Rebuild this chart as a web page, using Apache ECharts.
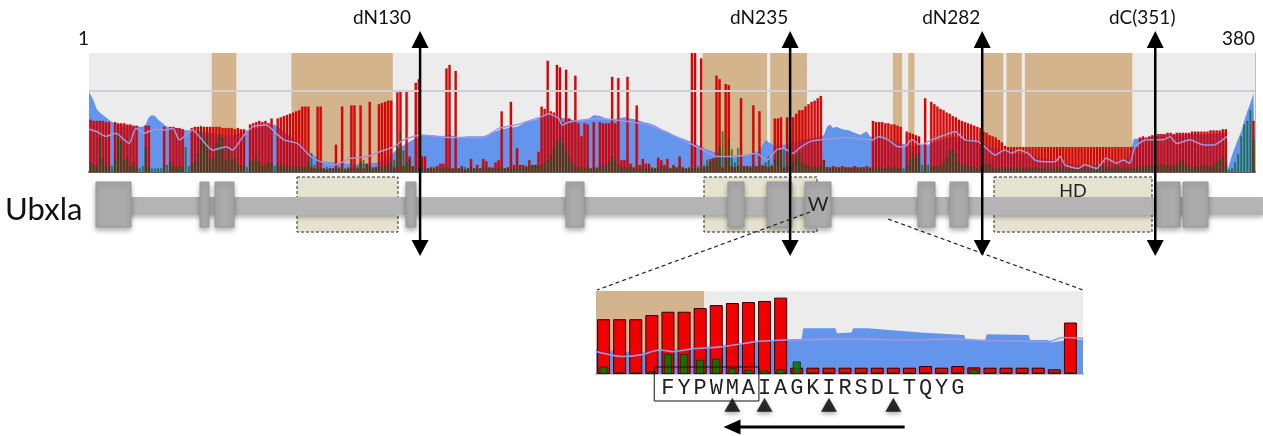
<!DOCTYPE html>
<html><head><meta charset="utf-8">
<script src="https://cdn.jsdelivr.net/npm/echarts@6/dist/echarts.min.js"></script>
<style>html,body{margin:0;padding:0;background:#fff}#c{width:1263px;height:436px}</style>
</head><body><div id="c"></div>
<script>
// ---- main conservation profile, residues 1..380 ----
const redVals = [
0.44,0.43,0.43,0.43,0.43,0.42,0.42,0,0.42,0.41,
0.41,0.41,0.40,0.40,0.39,0.39,0,0,0.39,0.39,
0,0,0,0,0.38,0,0.38,0.38,0.37,0.37,
0.36,0,0,0.37,0.38,0.38,0.38,0.38,0.38,0.38,
0.38,0.38,0.38,0.37,0.37,0.37,0.37,0.36,0.37,0.36,
0.36,0,0.40,0.41,0.42,0.43,0.42,0.43,0.41,0.45,
0,0.45,0.46,0.47,0.48,0.49,0.50,0.51,0.52,0.55,
0.55,0.55,0.04,0.03,0.55,0.55,0.03,0.02,0.03,0.03,
0.23,0.03,0.55,0.02,0.03,0.56,0.56,0.03,0.56,0.03,
0.07,0.59,0.03,0.04,0.57,0.58,0.59,0.60,0.60,0.04,
0.67,0.68,0.05,0.69,0.13,0.05,0.75,0.78,0.13,0.13,
0.03,0.04,0.03,0.05,0.07,0.07,0.87,0.90,0.03,0.85,
0.03,0.05,0.02,0.03,0.11,0.03,0.06,0.03,0.11,0.09,
0.04,0.03,0.08,0.10,0.51,0.03,0.04,0.59,0.06,0.20,
0.06,0.06,0.05,0.10,0.06,0.06,0.17,0.55,0.53,0.935,
0.51,0.50,0.90,0.88,0.42,0.86,0.45,0.43,0.81,0.41,
0.30,0.41,0.40,0.03,0.42,0.03,0.42,0.41,0.41,0.41,
0.80,0.41,0.79,0.10,0.10,0.80,0.07,0.04,0.56,0.06,
0.11,0.07,0.07,0.03,0.03,0.12,0.10,0.06,0.11,0.03,
0.06,0.04,0.13,0.04,0.03,0.03,1.0,1.0,0.03,0.955,
0.04,0.05,0.11,0.11,0.81,0.78,0.04,0.74,0.73,0.05,
0.04,0.05,0.62,0.05,0.05,0.04,0.56,0.05,0.51,0.05,
0.05,0.04,0.05,0.45,0.45,0.46,0.04,0.46,0.46,0.46,
0.49,0.52,0.52,0.55,0.57,0.59,0.60,0.62,0.64,0.10,
0.04,0.04,0.05,0.04,0.04,0.05,0.04,0.04,0.04,0.05,
0.04,0.04,0.04,0.05,0.04,0.43,0.42,0.42,0.42,0.41,
0.41,0.40,0.40,0.39,0.38,0,0.34,0.33,0.32,0.31,
0.30,0,0.62,0,0.59,0.57,0.55,0.53,0.52,0.50,
0.49,0.47,0.46,0.44,0.43,0.42,0.41,0.40,0.39,0.38,
0.37,0.34,0.33,0.31,0.30,0.29,0.27,0.25,0.22,0.21,
0.21,0.21,0.21,0.21,0.21,0.21,0.21,0.21,0.21,0.21,
0.21,0.21,0.21,0.21,0.21,0.21,0.21,0.21,0.21,0.21,
0.21,0.21,0.21,0.21,0.21,0.21,0.21,0.21,0.21,0.21,
0.21,0.21,0.21,0.21,0.21,0.21,0.21,0.21,0.21,0.21,
0.21,0.21,0.29,0.30,0.29,0.30,0.31,0.31,0.32,0.32,
0.32,0.33,0.33,0.32,0.33,0.33,0.33,0.33,0.33,0.34,
0.34,0.34,0.34,0.34,0.34,0.35,0.35,0.35,0.35,0.36,
0.36,0,0,0,0,0,0,0,0,0.43
];
const greenVals = [
0.08,0.06,0.05,0.28,0.12,0.05,0.04,0.05,0.10,0.33,
0.25,0.10,0.12,0.05,0.08,0.04,0.03,0.05,0.21,0.04,
0.03,0.03,0.03,0.03,0.05,0.06,0.08,0.05,0.04,0.05,
0.04,0.21,0.05,0.06,0.08,0.15,0.39,0.28,0.30,0.10,
0.12,0.25,0.32,0.28,0.10,0.21,0.10,0.12,0.06,0.05,
0.05,0.04,0.08,0.10,0.12,0.08,0.05,0.06,0.08,0.07,
0.05,0.06,0.07,0.05,0.04,0.04,0.05,0.04,0.04,0.05,
0.04,0.08,0.16,0.06,0.04,0.03,0.03,0.04,0.03,0.03,
0.03,0.04,0.03,0.03,0.04,0.03,0.04,0.05,0.08,0.10,
0.06,0.05,0.04,0.04,0.05,0.04,0.05,0.06,0.08,0.10,
0.21,0.34,0.18,0.08,0.10,0.04,0.03,0.03,0.04,0.03,
0.03,0.03,0.04,0.03,0.03,0.03,0.04,0.03,0.03,0.03,
0.03,0.03,0.04,0.03,0.04,0.03,0.03,0.03,0.04,0.03,
0.03,0.04,0.03,0.03,0.04,0.03,0.03,0.04,0.03,0.04,
0.04,0.03,0.04,0.05,0.05,0.06,0.05,0.06,0.08,0.10,
0.14,0.20,0.26,0.28,0.24,0.18,0.12,0.08,0.05,0.04,
0.04,0.03,0.04,0.03,0.04,0.04,0.05,0.04,0.06,0.08,
0.13,0.10,0.06,0.04,0.04,0.03,0.04,0.03,0.04,0.03,
0.04,0.03,0.03,0.04,0.03,0.04,0.05,0.03,0.04,0.03,
0.04,0.03,0.05,0.03,0.03,0.04,0.03,0.03,0.05,0.04,
0.06,0.10,0.08,0.12,0.13,0.21,0.34,0.15,0.28,0.19,
0.08,0.20,0.06,0.05,0.04,0.05,0.06,0.04,0.05,0.06,
0.08,0.13,0.06,0.10,0.19,0.18,0.19,0.06,0.05,0.08,
0.13,0.16,0.08,0.06,0.05,0.04,0.05,0.04,0.06,0.10,
0.04,0.03,0.03,0.04,0.03,0.03,0.04,0.03,0.03,0.04,
0.03,0.03,0.04,0.03,0.03,0.03,0.03,0.04,0.03,0.03,
0.04,0.03,0.04,0.03,0.04,0.03,0.05,0.10,0.16,0.12,
0.16,0.06,0.05,0.06,0.04,0.05,0.04,0.06,0.08,0.12,
0.18,0.19,0.15,0.08,0.05,0.07,0.06,0.04,0.04,0.03,
0.04,0.07,0.06,0.07,0.04,0.03,0.03,0.04,0.03,0.03,
0.03,0.04,0.03,0.03,0.03,0.04,0.03,0.03,0.04,0.03,
0.03,0.03,0.04,0.03,0.03,0.04,0.03,0.03,0.03,0.04,
0.03,0.04,0.03,0.03,0.04,0.03,0.04,0.05,0.06,0.04,
0.05,0.04,0.04,0.03,0.05,0.04,0.03,0.04,0.04,0.03,
0.03,0.04,0.05,0.04,0.05,0.06,0.05,0.04,0.05,0.07,
0.05,0.06,0.05,0.06,0.07,0.08,0.10,0.06,0.05,0.04,
0.05,0.04,0.05,0.06,0.05,0.04,0.06,0.08,0.10,0.13,
0.06,0.02,0.03,0.08,0.15,0.30,0.40,0.43,0.52,0.27
];
const bluePts = [
[0.5,0.675],[1,0.66],[2,0.60],[3,0.53],[4,0.50],[5,0.48],[6,0.46],[7,0.44],[8,0.42],[10,0.40],[13,0.39],[16,0.38],[18,0.38],
[19,0.40],[20,0.46],[21,0.48],[22,0.47],[23,0.44],[24,0.42],[25,0.40],[26,0.38],[29,0.37],[31,0.36],[32,0.35],[33,0.35],
[36,0.34],[40,0.33],[44,0.31],[48,0.31],[50,0.33],[52,0.35],[55,0.37],[58,0.39],[61,0.40],[63,0.36],[66,0.30],[69,0.24],
[72,0.17],[75,0.12],[77,0.09],[80,0.08],[85,0.07],[90,0.07],[95,0.08],[98,0.12],[100,0.17],[102,0.21],[104,0.24],[106,0.27],
[108,0.29],[109,0.31],[112,0.31],[115,0.30],[118,0.31],[121,0.29],[124,0.30],[127,0.30],[129,0.30],[131,0.32],[134,0.35],
[137,0.37],[140,0.38],[143,0.42],[146,0.44],[148,0.46],[150,0.49],[152,0.48],[154,0.46],[156,0.45],[158,0.44],[161,0.43],
[163,0.44],[165,0.48],[167,0.47],[169,0.45],[171,0.44],[173,0.45],[175,0.46],[177,0.45],[179,0.44],[181,0.42],[183,0.41],
[185,0.39],[187,0.36],[189,0.34],[191,0.31],[193,0.29],[195,0.27],[198,0.24],[201,0.20],[204,0.17],[207,0.14],[210,0.12],
[213,0.13],[216,0.15],[219,0.18],[221,0.27],[222,0.25],[224,0.22],[227,0.23],[230,0.25],[233,0.27],[236,0.28],[239,0.30],
[240,0.31],[241,0.38],[242,0.40],[243,0.37],[244,0.38],[246,0.36],[248,0.35],[250,0.33],[252,0.31],[253,0.33],[254,0.34],
[255,0.30],[256,0.29],[258,0.29],[262,0.27],[265,0.24],[267,0.23],[270,0.22],[272,0.23],[274,0.23],[276,0.25],[279,0.28],
[282,0.30],[286,0.28],[290,0.26],[294,0.21],[298,0.18],[302,0.16],[306,0.15],[310,0.12],[314,0.10],[318,0.08],[322,0.06],
[326,0.05],[330,0.06],[334,0.09],[338,0.10],[340,0.16],[341,0.28],[343,0.28],[346,0.29],[350,0.31],[355,0.31],[360,0.32],
[365,0.32],[371,0.33],[371.6,0.02],[373,0.14],[374,0.21],[375,0.28],[376,0.34],[377,0.43],[378,0.51],[379,0.58],[380,0.66],[380.5,0.675]
];
const purplePts = [
[0.5,0.36],[3,0.34],[6,0.30],[9.3,0.325],[12,0.27],[13.6,0.24],[15.8,0.367],[18.5,0.325],[22,0.36],[25.6,0.353],[27.8,0.367],
[30,0.27],[34.3,0.353],[36.5,0.297],[40.8,0.185],[45.2,0.213],[47.3,0.185],[50.6,0.297],[53.9,0.381],[58.2,0.395],[61.5,0.325],
[64,0.27],[68.4,0.24],[72.8,0.13],[76,0.087],[80.4,0.06],[85.8,0.115],[91.2,0.13],[96.7,0.185],[100,0.213],[103,0.27],[108.6,0.31],
[118.4,0.29],[129,0.29],[134,0.367],[139.5,0.395],[148,0.465],[150.3,0.49],[153.6,0.45],[154.7,0.395],[156.9,0.42],[161.2,0.437],
[166,0.45],[172,0.437],[177.5,0.42],[183,0.395],[189.5,0.325],[193.8,0.27],[197.4,0.227],[200.7,0.185],[205,0.13],[209.4,0.13],
[214.8,0.143],[218,0.157],[221.4,0.10],[224.6,0.185],[226.8,0.2],[230,0.157],[232,0.2],[235.5,0.255],[238.8,0.27],[242,0.28],
[247.5,0.29],[252,0.28],[256,0.27],[257.7,0.297],[261,0.27],[264.2,0.213],[266.4,0.213],[268.6,0.27],[271.8,0.227],[275.1,0.27],
[279.4,0.31],[282.7,0.34],[286,0.27],[290.3,0.255],[293.6,0.185],[295.7,0.143],[299,0.185],[301.2,0.157],[303.4,0.185],[306.6,0.157],
[308.8,0.10],[312,0.087],[315.3,0.087],[317,0.13],[318.6,0.06],[323,0.03],[325,0.06],[328.9,0.03],[332,0.115],[335.4,0.073],
[337.6,0.10],[339.7,0.073],[341.4,0.213],[345.2,0.27],[350.6,0.27],[352.8,0.297],[355,0.24],[359.3,0.27],[363.7,0.227],[367,0.227],[371.3,0.297]
];
const tanRanges = [[41,48],[67,99],[201,221],[223,234],[263,265],[268,269],[292,298],[300,304],[306,340]];
const refLevel = 0.68;
const topTicks = [48,98,146,195,283,336];
const endLabels = ['1','380'];
const cutLabels = ['dN130','dN235','dN282','dC(351)'];
const cutPos = [108.4,229,291.6,348];
const cutLabelDx = [-38,-31,-31,-13];

// ---- inset (zoomed W region) ----
const insetRed = [0.66,0.66,0.66,0.71,0.75,0.75,0.795,0.83,0.855,0.867,0.88,0.92,
  0.076,0.076,0.076,0.076,0.076,0.076,0.076,0.076,0.096,0.076,0.096,0.08,0.076,0.076,0.076,0.076,0.056,0.62];
const insetGreen = [0.088,0.02,0.02,0.03,0.24,0.24,0.17,0.185,0.068,0.048,0.04,0.056,
  0.15,0.02,0.02,0.02,0.02,0.02,0.02,0.02,0.02,0.02,0.02,0.056,0.02,0.02,0.02,0.02,0.02,0.02];
const insetBlue = [[-0.5,0.30],[1,0.27],[3,0.26],[5,0.30],[7,0.34],[9,0.38],[11,0.40],[11.4,0.42],[12.3,0.42],[12.4,0.55],
  [14.4,0.55],[14.5,0.49],[15.4,0.50],[15.5,0.55],[16.4,0.55],[16.5,0.53],[19.7,0.50],[19.8,0.49],[22.4,0.47],[22.5,0.41],
  [23.7,0.41],[23.8,0.48],[26.4,0.47],[26.5,0.41],[27.6,0.41],[27.8,0.38],[28.5,0.40],[30,0.42]];
const insetPurple = [[-0.47,0.27],[0.4,0.23],[1.2,0.21],[2.3,0.23],[3.5,0.29],[4.3,0.27],[5.4,0.30],[7.4,0.33],[9.5,0.39],
  [11.4,0.41],[15.7,0.42],[19,0.41],[21.9,0.42],[24,0.40],[27.7,0.39],[28.5,0.44],[29.8,0.43]];
const insetLetters = ['','','','','F','Y','P','W','M','A','I','A','G','K','I','R','S','D','L','T','Q','Y','G','','','','','','',''];
const insetMarks = [8,10,14,18];
const insetTan = [-0.47,6.24];
const motifBox = [3.15,9.65];
const arrowSpan = [18.7,7.45];

// ---- gene schematic (schematic units) ----
const domains = [[297,398],[704,817],[994,1152]];
const domainLabels = ['','','HD'];
const backbone = [[110,1263]];
const exons = [[96,131],[200,209],[215,234],[406,416],[566,584],[728,744],[767,792],[805,831],[918,935],[950,968],[1157,1180],[1183,1208]];
const exonLabels = ['','','','','','','','W','','','',''];

const chart = echarts.init(document.getElementById('c'), null, {renderer:'canvas'});
const FONT = 'Lato';
const hidden = {show:false};

function rectItem(kind){
  return function(params, api){
    const p0 = api.coord([api.value(0), api.value(2)]);
    const p1 = api.coord([api.value(1), api.value(3)]);
    const x = p0[0], w = p1[0]-p0[0], y = Math.min(p0[1],p1[1]), h = Math.abs(p1[1]-p0[1]);
    const children = [];
    if (kind==='domain'){
      children.push({type:'rect', shape:{x,y,width:w,height:h}, style:{fill:'#e6e2d0', stroke:'#2a2a2a', lineWidth:1, lineDash:[3,2]}});
    } else if (kind==='domainLabel'){
      const t = domainLabels[params.dataIndex];
      if (t) children.push({type:'text', style:{text:t, x:x+w/2, y:y+14, align:'center', verticalAlign:'middle', font:'18px '+FONT, fill:'#222'}});
    } else if (kind==='backbone'){
      children.push({type:'rect', shape:{x,y,width:w,height:h}, style:{fill:'#b4b4b4', shadowBlur:4, shadowOffsetY:3, shadowColor:'rgba(0,0,0,0.25)'}});
    } else {
      children.push({type:'rect', shape:{x,y,width:w,height:h}, style:{fill:'#ababab', stroke:'#979797', lineWidth:1, shadowBlur:5, shadowOffsetY:3, shadowColor:'rgba(0,0,0,0.3)'}});
      const t = exonLabels[params.dataIndex];
      if (t) children.push({type:'text', style:{text:t, x:x+w/2, y:y+h/2, align:'center', verticalAlign:'middle', font:'20px '+FONT, fill:'#222'}});
    }
    return {type:'group', children};
  };
}

const option = {
  animation:false,
  grid:[
    {left:89, top:53, width:1166, height:119, show:true, backgroundColor:'#ececec', borderWidth:0},
    {left:596, top:291, width:487, height:83, show:true, backgroundColor:'#ececec', borderWidth:0},
    {left:0, top:177, width:1263, height:55}
  ],
  xAxis:[
    {gridIndex:0, type:'value', min:0.5, max:380.5, position:'bottom', axisLine:{show:true, onZero:false, lineStyle:{color:'#2b2f2b', width:1.5}}, axisTick:hidden, axisLabel:hidden, splitLine:hidden},
    {gridIndex:0, type:'value', min:0.5, max:380.5, position:'top', axisLine:{show:true, lineStyle:{color:'#666', width:1.5}},
      axisTick:{show:true, customValues:topTicks, length:3, lineStyle:{color:'#666'}},
      axisLabel:{show:true, customValues:[0.5,380.5], showMinLabel:true, showMaxLabel:true, formatter:v=> v<1?endLabels[0]:endLabels[1], align:'right', margin:5, fontFamily:FONT, fontSize:19, color:'#111'},
      splitLine:hidden},
    {gridIndex:0, type:'value', min:0.5, max:380.5, show:false},
    {gridIndex:1, type:'value', min:-0.47, max:29.78, position:'bottom', axisLine:{show:true, onZero:false, lineStyle:{color:'#2d6b2d', width:1.5}}, axisTick:hidden,
      axisLabel:{show:true, customValues:insetLetters.map((l,i)=>l?i:null).filter(v=>v!==null), formatter:v=>insetLetters[Math.round(v)], margin:3, fontFamily:'Liberation Mono', fontSize:22, color:'#222'},
      splitLine:hidden},
    {gridIndex:1, type:'value', min:-0.47, max:29.78, position:'top', axisLine:{show:true, lineStyle:{color:'#c8c8c8', width:2}}, axisTick:hidden, axisLabel:hidden, splitLine:hidden},
    {gridIndex:1, type:'value', min:-0.47, max:29.78, show:false},
    {gridIndex:2, type:'value', min:0, max:1263, show:false}
  ],
  yAxis:[
    {gridIndex:0, type:'value', min:0, max:1, position:'right', axisLine:{show:true, lineStyle:{color:'#bdbdbd', width:1}}, axisTick:hidden, axisLabel:hidden, splitLine:hidden},
    {gridIndex:1, type:'value', min:0, max:1, show:false},
    {gridIndex:2, type:'value', min:0, max:55, inverse:true, show:false}
  ],
  series:[
    {type:'line', xAxisIndex:0, yAxisIndex:0, data:[], z:1, silent:true,
      markArea:{silent:true, itemStyle:{color:'#d3b48c'}, data:tanRanges.map(([a,b])=>[{xAxis:a-0.5},{xAxis:b+0.5}])}},
    {type:'line', xAxisIndex:0, yAxisIndex:0, data:[], z:2, silent:true,
      markLine:{silent:true, symbol:['none','none'], label:{show:false}, lineStyle:{color:'#d0d0d4', width:2, type:'solid'}, data:[{yAxis:refLevel}]}},
    {type:'line', xAxisIndex:0, yAxisIndex:0, data:bluePts, z:3, showSymbol:false, silent:true, lineStyle:{width:0}, areaStyle:{color:'#6495ed', opacity:1}},
    {type:'bar', xAxisIndex:0, yAxisIndex:0, z:4, barWidth:2.5, silent:true,
      data:redVals.map((v,i)=>[i+1,v]).filter(d=>d[1]>0),
      itemStyle:{color:'#e80000', borderColor:'rgba(60,0,0,0.6)', borderWidth:0.25}},
    {type:'bar', xAxisIndex:2, yAxisIndex:0, z:5, barWidth:1.8, silent:true,
      data:greenVals.map((v,i)=>[i+1,v]),
      itemStyle:{color:'rgba(0,110,0,0.68)', borderColor:'rgba(0,40,0,0.6)', borderWidth:0.25}},
    {type:'line', xAxisIndex:0, yAxisIndex:0, z:6, data:purplePts, showSymbol:false, silent:true, smooth:0.2, lineStyle:{color:'#a397dc', width:1.5}},

    {type:'line', xAxisIndex:3, yAxisIndex:1, data:[], z:1, silent:true,
      markArea:{silent:true, itemStyle:{color:'#d3b48c'}, data:[[{xAxis:insetTan[0]},{xAxis:insetTan[1]}]]}},
    {type:'line', xAxisIndex:3, yAxisIndex:1, data:insetBlue, z:3, showSymbol:false, silent:true, lineStyle:{width:0}, areaStyle:{color:'#6495ed', opacity:1}},
    {type:'bar', xAxisIndex:3, yAxisIndex:1, z:4, barWidth:13, silent:true,
      data:insetRed.map((v,i)=>[i,v]), itemStyle:{color:'#f00000', borderColor:'#300000', borderWidth:1}},
    {type:'bar', xAxisIndex:5, yAxisIndex:1, z:5, barWidth:8, silent:true,
      data:insetGreen.map((v,i)=>[i,v]), itemStyle:{color:'rgba(0,120,0,0.85)', borderColor:'#0b300b', borderWidth:0.8}},
    {type:'line', xAxisIndex:3, yAxisIndex:1, z:6, data:insetPurple, showSymbol:false, silent:true, smooth:0.3, lineStyle:{color:'#a397dc', width:1.6}},
    {type:'scatter', xAxisIndex:3, yAxisIndex:1, z:7, clip:false, silent:true, symbol:'triangle', symbolSize:[16,14],
      data:insetMarks.map(i=>[i,-0.37]), itemStyle:{color:'#000', shadowBlur:4, shadowOffsetY:2, shadowColor:'rgba(0,0,0,0.45)'}},

    {type:'custom', xAxisIndex:6, yAxisIndex:2, z:1, silent:true, renderItem:rectItem('domain'), data:domains.map(d=>[d[0],d[1],0,55])},
    {type:'custom', xAxisIndex:6, yAxisIndex:2, z:2, silent:true, renderItem:rectItem('backbone'), data:backbone.map(d=>[d[0],d[1],20,38])},
    {type:'custom', xAxisIndex:6, yAxisIndex:2, z:3, silent:true, renderItem:rectItem('exon'), data:exons.map(d=>[d[0],d[1],5,50])},
    {type:'custom', xAxisIndex:6, yAxisIndex:2, z:4, silent:true, renderItem:rectItem('domainLabel'), data:domains.map(d=>[d[0],d[1],0,55])}
  ]
};
chart.setOption(option);

// annotations computed through the axes
const g = [];
cutPos.forEach((r,i)=>{
  const x = chart.convertToPixel({xAxisIndex:0}, r);
  g.push({type:'line', z:100, shape:{x1:x,y1:44,x2:x,y2:244}, style:{stroke:'#000', lineWidth:2.5}});
  g.push({type:'polygon', z:100, shape:{points:[[x,31],[x-8.5,48],[x+8.5,48]]}, style:{fill:'#000'}});
  g.push({type:'polygon', z:100, shape:{points:[[x,256],[x-8.5,240],[x+8.5,240]]}, style:{fill:'#000'}});
  g.push({type:'text', z:100, style:{text:cutLabels[i], x:x+cutLabelDx[i], y:18, align:'center', verticalAlign:'middle', font:'19px '+FONT, fill:'#111'}});
});
g.push({type:'text', z:100, style:{text:'Ubxla', x:5, y:210, align:'left', verticalAlign:'middle', font:'31px '+FONT, fill:'#111'}});
g.push({type:'line', z:90, shape:{x1:810,y1:212,x2:597,y2:290}, style:{stroke:'#222', lineWidth:1.2, lineDash:[4,3]}});
g.push({type:'line', z:90, shape:{x1:888,y1:219,x2:1083,y2:290}, style:{stroke:'#222', lineWidth:1.2, lineDash:[4,3]}});
const bx0 = chart.convertToPixel({xAxisIndex:3}, motifBox[0]);
const bx1 = chart.convertToPixel({xAxisIndex:3}, motifBox[1]);
g.push({type:'rect', z:100, shape:{x:bx0, y:367, width:bx1-bx0, height:34}, style:{fill:'none', stroke:'#111', lineWidth:1}});
const ax0 = chart.convertToPixel({xAxisIndex:3}, arrowSpan[0]);
const ax1 = chart.convertToPixel({xAxisIndex:3}, arrowSpan[1]);
g.push({type:'line', z:100, shape:{x1:ax0,y1:427,x2:ax1+14,y2:427}, style:{stroke:'#000', lineWidth:3}});
g.push({type:'polygon', z:100, shape:{points:[[ax1,427],[ax1+17,419.5],[ax1+17,434.5]]}, style:{fill:'#000'}});
chart.setOption({graphic:g});
</script>
</body></html>
